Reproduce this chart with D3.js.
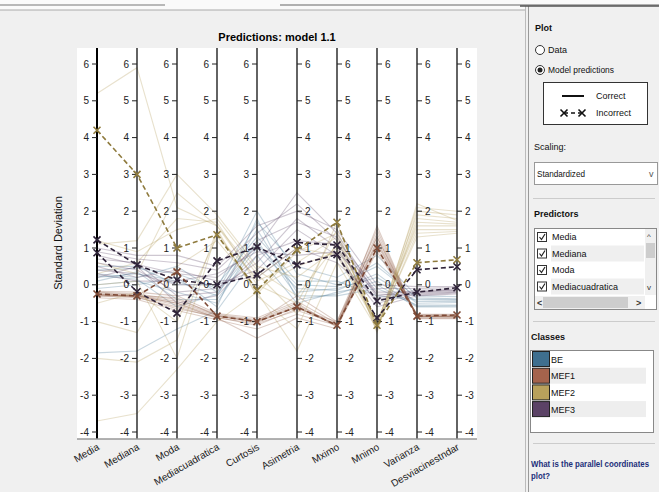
<!DOCTYPE html>
<html>
<head>
<meta charset="utf-8">
<script src="https://cdn.jsdelivr.net/npm/d3@7"></script>
<style>
  body { margin: 0; background: #f0f0f0; }
  text { font-family: "Liberation Sans", Arial, sans-serif; }
</style>
</head>
<body>
<div id="chart"></div>
<script>
const W = 659, H = 492;

const axisNames = ['Media', 'Mediana', 'Moda', 'Mediacuadratica', 'Curtosis', 'Asimetria', 'Mximo', 'Mnimo', 'Varianza', 'Desviacinestndar'];
const yTicks = [-4, -3, -2, -1, 0, 1, 2, 3, 4, 5, 6];
const classNames = ['BE', 'MEF1', 'MEF2', 'MEF3'];
const classColors = ['#3f6f8f', '#a5634c', '#b9a15c', '#5b4266'];
const lineColors = ['#4a7894', '#8e5a42', '#b39a58', '#5e4468'];

// one row per observation, values in axisNames order
const linesBE = [
  [0.2, 0.3, 0.1, -0.3, 1.5, -0.2, -0.1, 0.2, -0.45, -0.45],
  [0.4, 0.45, 0.3, -0.1, 2.0, 0.3, 0.0, 0.5, -0.35, -0.38],
  [0.0, 0.1, -0.2, -0.5, 1.2, -0.3, -0.3, -0.1, -0.55, -0.55],
  [-1.85, -1.8, -1.2, -0.7, 0.8, -0.5, -0.2, 0.0, -0.6, -0.6],
  [0.3, 0.2, 0.5, -0.2, 1.7, 0.5, 0.2, 0.8, -0.3, -0.32],
  [0.1, 0.35, -0.4, -0.4, 1.0, -0.1, -0.15, 0.3, -0.5, -0.48],
  [0.5, 0.5, 0.0, 0.0, 1.3, 0.1, 0.1, -0.3, -0.4, -0.42],
  [-0.1, 0.0, 0.2, -0.6, 1.8, -0.4, -0.25, 0.1, -0.58, -0.57],
  [0.25, 0.15, -0.6, -0.25, 1.1, 0.0, -0.05, 0.6, -0.38, -0.4]
];
const linesMEF1 = [
  [-0.25, -0.3, -0.5, -0.85, -1.0, -0.6, -1.1, 1.1, -0.85, -0.85],
  [-0.3, -0.35, -0.6, -0.9, -1.05, -0.7, -1.05, 1.3, -0.85, -0.88],
  [-0.2, -0.25, -0.4, -0.8, -0.95, -0.5, -1.15, 1.0, -0.8, -0.82],
  [-0.28, -0.32, -0.55, -0.88, -1.1, -0.65, -1.0, 1.5, -0.9, -0.9],
  [-0.22, -0.28, -0.45, -0.82, -0.98, -0.55, -1.1, 1.2, -0.83, -0.85],
  [-0.35, -0.4, -0.7, -0.95, -1.2, -0.8, -1.1, 1.4, -0.88, -0.87],
  [-0.18, -0.2, -0.3, -0.78, -0.9, -0.45, -1.05, 0.9, -0.8, -0.8],
  [-0.3, -0.3, -0.5, -0.9, -1.45, -0.9, -1.2, 1.6, -0.92, -0.92],
  [-0.25, -0.33, -0.65, -0.86, -1.0, -0.3, -1.0, 1.3, -0.86, -0.86],
  [-0.27, -0.3, -0.35, -0.84, -1.02, -0.6, -1.12, 1.15, -0.85, -0.84]
];
const linesMEF2 = [
  [5.2, 5.9, 2.1, 1.6, 0.1, 0.6, 1.3, -1.1, 2.1, 2.0],
  [-3.7, -3.5, -2.3, -1.0, -0.2, -1.8, 0.6, -1.2, 1.8, 1.7],
  [1.1, 1.2, 3.0, 1.9, 0.5, 0.2, 1.0, -1.0, 1.5, 1.5],
  [0.3, 0.6, 1.8, 1.7, 0.0, -0.5, 1.5, -1.3, 2.0, 1.9],
  [-0.5, -0.2, -1.0, 1.3, 0.2, 1.0, 0.8, -1.1, 1.3, 1.4],
  [-2.0, -2.1, -1.5, 1.5, -0.3, -1.2, 1.2, -1.0, 1.6, 1.6],
  [0.6, 0.3, 2.5, 1.6, 0.3, -0.8, 1.7, -1.2, 1.7, 1.65],
  [-1.0, -1.3, 0.5, 1.2, -0.1, 0.5, 0.9, -1.05, 1.9, 1.8],
  [1.2, 0.9, 1.5, 1.8, 0.4, -0.3, 1.1, -1.15, 1.4, 1.45],
  [0.0, 0.1, -2.0, 1.45, -0.25, 0.9, 1.4, -1.25, 2.2, 1.75]
];
const linesMEF3 = [
  [0.8, 0.55, 0.3, 0.2, 1.0, 2.5, 1.4, -0.3, -0.15, -0.12],
  [0.6, 0.4, -0.2, -0.1, 0.6, 1.8, 1.0, -0.5, -0.25, -0.2],
  [0.9, 0.7, 0.6, 0.4, 1.4, 2.2, 1.2, -0.1, -0.1, -0.08],
  [0.4, 0.3, 0.0, 0.0, 0.4, 1.5, 0.8, -0.6, -0.3, -0.25],
  [0.2, 0.5, -0.5, -0.3, 0.8, 1.2, 1.1, -0.2, -0.2, -0.15],
  [1.0, 0.8, 0.8, 0.5, 1.6, 2.0, 1.5, 0.0, -0.05, -0.05],
  [0.5, 0.2, 0.4, 0.1, 0.2, 1.0, 0.6, -0.4, -0.22, -0.18],
  [0.7, 0.6, -0.3, -0.2, 1.2, 1.7, 1.3, -0.35, -0.18, -0.14],
  [0.3, 0.1, 0.1, 0.3, 0.9, 0.8, 0.9, -0.25, -0.28, -0.22]
];
// incorrectly predicted observations (dashed, x markers)
const wrongValues = [
  [1.22, 0.54, 0.13, 0.0, 0.27, 1.15, 1.08, -0.44, -0.2, -0.08],
  [0.87, -0.19, -0.77, 0.65, 1.03, 0.54, 0.82, -0.9, 0.41, 0.49],
  [4.2, 3.0, 1.0, 1.36, -0.15, 0.95, 1.7, -1.1, 0.6, 0.68],
  [-0.25, -0.3, 0.35, -0.85, -1.0, -0.6, -1.1, 1.0, -0.85, -0.82]
];
const wrongColors = ['#2e2238', '#2e2238', '#8f7b3e', '#7e4a36'];
const predictorItems = ['Media', 'Mediana', 'Moda', 'Mediacuadratica'];

const svg = d3.select('#chart').append('svg')
  .attr('width', W).attr('height', H);

svg.append('rect').attr('width', W).attr('height', H).attr('fill', '#f0f0f0');
// top tab strip
svg.append('rect').attr('width', W).attr('height', 10).attr('fill', '#fafafa');
svg.append('line').attr('x1', 0).attr('x2', 165).attr('y1', 5).attr('y2', 5).attr('stroke', '#777');
svg.append('line').attr('x1', 280).attr('x2', W).attr('y1', 5).attr('y2', 5).attr('stroke', '#666');
svg.append('line').attr('x1', 0).attr('x2', 525).attr('y1', 10).attr('y2', 10).attr('stroke', '#aaa');

const x = d3.scalePoint().domain(axisNames).range([97, 457]);
const y = d3.scaleLinear().domain([-4, 6]).range([432, 64]);
const plot = { left: 77, right: 477, top: 48, bottom: 439 };

svg.append('rect')
  .attr('x', plot.left).attr('y', plot.top)
  .attr('width', plot.right - plot.left).attr('height', plot.bottom - plot.top)
  .attr('fill', '#fff');

svg.append('clipPath').attr('id', 'clip').append('rect')
  .attr('x', plot.left).attr('y', plot.top)
  .attr('width', plot.right - plot.left).attr('height', plot.bottom - plot.top);

const line = d3.line().x((d, i) => x(axisNames[i])).y(d => y(d));

const groups = [linesBE, linesMEF1, linesMEF2, linesMEF3];
const lineLayer = svg.append('g').attr('clip-path', 'url(#clip)');
groups.forEach((rows, ci) => {
  lineLayer.append('g').selectAll('path').data(rows).enter()
    .append('path')
    .attr('d', line)
    .attr('fill', 'none')
    .attr('stroke', lineColors[ci])
    .attr('stroke-opacity', 0.3)
    .attr('stroke-width', 1.1);
});

// axes
axisNames.forEach((name, i) => {
  const leftSide = i < 5;
  const g = svg.append('g').attr('transform', `translate(${x(name)},0)`);
  g.append('line')
    .attr('y1', plot.top).attr('y2', plot.bottom)
    .attr('stroke', i === 0 ? '#000' : '#222')
    .attr('stroke-width', i === 0 ? 2 : 1.4);
  const t = g.selectAll('g.tick').data(yTicks).enter().append('g')
    .attr('transform', d => `translate(0,${y(d)})`);
  t.append('line')
    .attr('x1', 0).attr('x2', leftSide ? -5 : 5)
    .attr('stroke', '#222');
  t.append('text')
    .attr('x', leftSide ? -8 : 8)
    .attr('dy', '0.35em')
    .attr('text-anchor', leftSide ? 'end' : 'start')
    .attr('font-size', 10)
    .attr('fill', '#222')
    .text(d => d);
  g.append('text')
    .attr('transform', 'translate(3,449) rotate(-30)')
    .attr('text-anchor', 'end')
    .attr('font-size', 10)
    .attr('fill', '#222')
    .text(name);
});
svg.append('line')
  .attr('x1', plot.left).attr('x2', plot.right)
  .attr('y1', plot.bottom).attr('y2', plot.bottom)
  .attr('stroke', '#999').attr('stroke-width', 1.5);

// incorrect observations
const wrong = svg.append('g').attr('clip-path', 'url(#clip)');
wrongValues.forEach((row, k) => {
  wrong.append('path')
    .attr('d', line(row))
    .attr('fill', 'none')
    .attr('stroke', wrongColors[k])
    .attr('stroke-width', 1.6)
    .attr('stroke-dasharray', '5,3');
  wrong.selectAll(null).data(row).enter().append('path')
    .attr('transform', (d, i) => `translate(${x(axisNames[i])},${y(d)})`)
    .attr('d', 'M-3.5,-3.5L3.5,3.5M-3.5,3.5L3.5,-3.5')
    .attr('stroke', wrongColors[k])
    .attr('stroke-width', 1.6);
});

svg.append('text')
  .attr('x', 277).attr('y', 41)
  .attr('text-anchor', 'middle')
  .attr('font-size', 11).attr('font-weight', 'bold')
  .text('Predictions: model 1.1');

svg.append('text')
  .attr('transform', 'translate(62,243) rotate(-90)')
  .attr('text-anchor', 'middle')
  .attr('font-size', 11)
  .attr('fill', '#111')
  .text('Standard Deviation');

// right control panel
const panel = svg.append('g');
panel.append('rect').attr('x', 526).attr('y', 6).attr('width', W - 526).attr('height', H - 6).attr('fill', '#f0f0f0');
panel.append('line').attr('x1', 525.5).attr('x2', 525.5).attr('y1', 6).attr('y2', H).attr('stroke', '#bbb');
panel.append('line').attr('x1', 528.5).attr('x2', 528.5).attr('y1', 6).attr('y2', H).attr('stroke', '#999');
panel.append('line').attr('x1', 520).attr('x2', W).attr('y1', 6).attr('y2', 6).attr('stroke', '#555').attr('stroke-width', 1.5);

const lbl = (tx, ty, s, opts = {}) => {
  const t = panel.append('text')
    .attr('x', tx).attr('y', ty)
    .attr('font-size', opts.size || 9)
    .attr('font-weight', opts.bold ? 'bold' : null)
    .attr('fill', opts.fill || '#111')
    .text(s);
  if (opts.len) t.attr('textLength', opts.len).attr('lengthAdjust', 'spacingAndGlyphs');
  return t;
};

lbl(535, 31, 'Plot', { bold: true });
panel.append('circle').attr('cx', 540).attr('cy', 50).attr('r', 4.5).attr('fill', '#fff').attr('stroke', '#333');
lbl(548, 53, 'Data');
panel.append('circle').attr('cx', 540).attr('cy', 70).attr('r', 4.5).attr('fill', '#fff').attr('stroke', '#333');
panel.append('circle').attr('cx', 540).attr('cy', 70).attr('r', 2.5).attr('fill', '#222');
lbl(548, 73, 'Model predictions', { len: 66 });

panel.append('rect').attr('x', 543.5).attr('y', 82.5).attr('width', 104).attr('height', 42).attr('fill', '#fff').attr('stroke', '#333');
panel.append('line').attr('x1', 562).attr('x2', 584).attr('y1', 96).attr('y2', 96).attr('stroke', '#111').attr('stroke-width', 2);
lbl(596, 99, 'Correct');
panel.append('line').attr('x1', 564).attr('x2', 582).attr('y1', 113).attr('y2', 113).attr('stroke', '#111').attr('stroke-width', 1.6).attr('stroke-dasharray', '4,3');
[564, 582].forEach(px => panel.append('path')
  .attr('transform', `translate(${px},113)`)
  .attr('d', 'M-3.5,-3.5L3.5,3.5M-3.5,3.5L3.5,-3.5')
  .attr('stroke', '#111').attr('stroke-width', 1.6));
lbl(596, 116, 'Incorrect');

lbl(534, 150, 'Scaling:');
panel.append('rect').attr('x', 534.5).attr('y', 162.5).attr('width', 123).attr('height', 22).attr('fill', '#fff').attr('stroke', '#999');
lbl(537, 177, 'Standardized', { len: 48 });
lbl(649, 177, 'v', { fill: '#555' });
panel.append('line').attr('x1', 533).attr('x2', 655).attr('y1', 198.5).attr('y2', 198.5).attr('stroke', '#ccc');

lbl(534, 217, 'Predictors', { bold: true });
panel.append('rect').attr('x', 534.5).attr('y', 228.5).attr('width', 122).attr('height', 81).attr('fill', '#fff').attr('stroke', '#888');
predictorItems.forEach((p, i) => {
  const ry = 229 + i * 16.5;
  if (i % 2 === 1) panel.append('rect').attr('x', 551).attr('y', ry).attr('width', 93).attr('height', 16).attr('fill', '#efefef');
  panel.append('rect').attr('x', 537.5).attr('y', ry + 3.5).attr('width', 9).attr('height', 9).attr('fill', '#fff').attr('stroke', '#333');
  panel.append('path').attr('d', `M539.5,${ry + 8}L541.5,${ry + 10.5}L545,${ry + 5}`).attr('fill', 'none').attr('stroke', '#222').attr('stroke-width', 1.2);
  lbl(552, ry + 11, p);
});
panel.append('rect').attr('x', 645).attr('y', 229).attr('width', 11).attr('height', 66).attr('fill', '#f0f0f0');
panel.append('rect').attr('x', 646).attr('y', 243).attr('width', 9).attr('height', 15).attr('fill', '#cdcdcd');
lbl(647, 239, '^', { size: 8, fill: '#333' });
lbl(647, 290, 'v', { size: 8, fill: '#333' });
panel.append('rect').attr('x', 535).attr('y', 296).attr('width', 110).attr('height', 13).attr('fill', '#f0f0f0');
panel.append('rect').attr('x', 543).attr('y', 297).attr('width', 85).attr('height', 11).attr('fill', '#cdcdcd');
lbl(537, 306, '<', { bold: true, fill: '#333' });
lbl(636, 306, '>', { bold: true, fill: '#333' });
panel.append('line').attr('x1', 533).attr('x2', 655).attr('y1', 321.5).attr('y2', 321.5).attr('stroke', '#ccc');

lbl(531, 340, 'Classes', { bold: true });
panel.append('rect').attr('x', 530.5).attr('y', 350.5).attr('width', 123).attr('height', 82).attr('fill', '#fff').attr('stroke', '#888');
classNames.forEach((c, i) => {
  const ry = 351 + i * 16.7;
  if (i % 2 === 1) panel.append('rect').attr('x', 550).attr('y', ry).attr('width', 96).attr('height', 16).attr('fill', '#eeeeee');
  panel.append('rect').attr('x', 532.5).attr('y', ry + 0.5).attr('width', 17).attr('height', 15).attr('fill', classColors[i]).attr('stroke', '#222');
  lbl(551, ry + 11.5, c);
});
panel.append('line').attr('x1', 533).attr('x2', 655).attr('y1', 443.5).attr('y2', 443.5).attr('stroke', '#ccc');
lbl(531, 467, 'What is the parallel coordinates', { fill: '#1c2f7a', bold: true, size: 8.5, len: 118 });
lbl(531, 479, 'plot?', { fill: '#1c2f7a', bold: true, size: 8.5, len: 19 });
</script>
</body>
</html>
